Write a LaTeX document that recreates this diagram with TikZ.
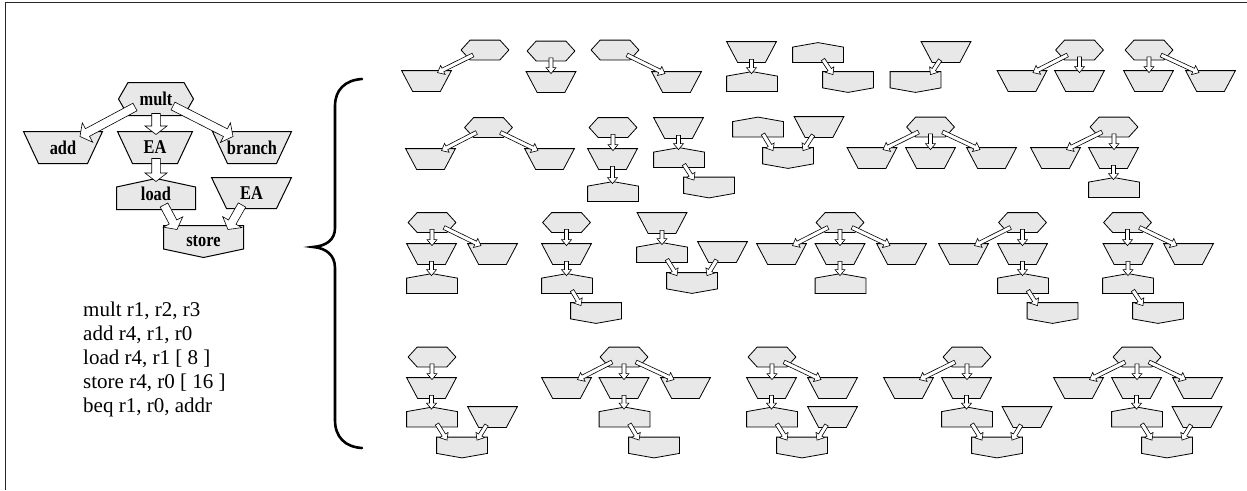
\documentclass[tikz,border=0pt]{standalone}
\usepackage{fontspec}
\setmainfont{Liberation Serif}
\usepackage{graphicx}
\usetikzlibrary{calc}
\definecolor{shfill}{RGB}{232,232,232}
\makeatletter
\newdimen\shxa \newdimen\shya \newdimen\shxb \newdimen\shyb \newdimen\shxm \newdimen\shym
\def\hexinset{9pt}
\def\trapinset{11pt}
\def\pentdrop{4.5pt}
\pgfdeclareshape{hexa}{
  \inheritsavedanchors[from=rectangle]
  \inheritanchorborder[from=rectangle]
  \inheritanchor[from=rectangle]{center}
  \inheritanchor[from=rectangle]{north}
  \inheritanchor[from=rectangle]{south}
  \inheritanchor[from=rectangle]{east}
  \inheritanchor[from=rectangle]{west}
  \inheritanchor[from=rectangle]{north west}
  \inheritanchor[from=rectangle]{north east}
  \inheritanchor[from=rectangle]{south west}
  \inheritanchor[from=rectangle]{south east}
  \backgroundpath{%
    \southwest \shxa=\pgf@x \shya=\pgf@y
    \northeast \shxb=\pgf@x \shyb=\pgf@y
    \shym=.5\shya \advance\shym by .5\shyb
    \pgfpathmoveto{\pgfqpoint{\shxa}{\shym}}%
    \pgfpathlineto{\pgfqpoint{\dimexpr\shxa+\hexinset\relax}{\shyb}}%
    \pgfpathlineto{\pgfqpoint{\dimexpr\shxb-\hexinset\relax}{\shyb}}%
    \pgfpathlineto{\pgfqpoint{\shxb}{\shym}}%
    \pgfpathlineto{\pgfqpoint{\dimexpr\shxb-\hexinset\relax}{\shya}}%
    \pgfpathlineto{\pgfqpoint{\dimexpr\shxa+\hexinset\relax}{\shya}}%
    \pgfpathclose
  }
}
\pgfdeclareshape{trapz}{
  \inheritsavedanchors[from=rectangle]
  \inheritanchorborder[from=rectangle]
  \inheritanchor[from=rectangle]{center}
  \inheritanchor[from=rectangle]{north}
  \inheritanchor[from=rectangle]{south}
  \inheritanchor[from=rectangle]{east}
  \inheritanchor[from=rectangle]{west}
  \inheritanchor[from=rectangle]{north west}
  \inheritanchor[from=rectangle]{north east}
  \inheritanchor[from=rectangle]{south west}
  \inheritanchor[from=rectangle]{south east}
  \backgroundpath{%
    \southwest \shxa=\pgf@x \shya=\pgf@y
    \northeast \shxb=\pgf@x \shyb=\pgf@y
    \pgfpathmoveto{\pgfqpoint{\shxa}{\shyb}}%
    \pgfpathlineto{\pgfqpoint{\shxb}{\shyb}}%
    \pgfpathlineto{\pgfqpoint{\dimexpr\shxb-\trapinset\relax}{\shya}}%
    \pgfpathlineto{\pgfqpoint{\dimexpr\shxa+\trapinset\relax}{\shya}}%
    \pgfpathclose
  }
}
\pgfdeclareshape{penup}{
  \inheritsavedanchors[from=rectangle]
  \inheritanchorborder[from=rectangle]
  \inheritanchor[from=rectangle]{center}
  \inheritanchor[from=rectangle]{north}
  \inheritanchor[from=rectangle]{south}
  \inheritanchor[from=rectangle]{east}
  \inheritanchor[from=rectangle]{west}
  \inheritanchor[from=rectangle]{north west}
  \inheritanchor[from=rectangle]{north east}
  \inheritanchor[from=rectangle]{south west}
  \inheritanchor[from=rectangle]{south east}
  \backgroundpath{%
    \southwest \shxa=\pgf@x \shya=\pgf@y
    \northeast \shxb=\pgf@x \shyb=\pgf@y
    \shxm=.5\shxa \advance\shxm by .5\shxb
    \pgfpathmoveto{\pgfqpoint{\shxa}{\shya}}%
    \pgfpathlineto{\pgfqpoint{\shxa}{\dimexpr\shyb-\pentdrop\relax}}%
    \pgfpathlineto{\pgfqpoint{\shxm}{\shyb}}%
    \pgfpathlineto{\pgfqpoint{\shxb}{\dimexpr\shyb-\pentdrop\relax}}%
    \pgfpathlineto{\pgfqpoint{\shxb}{\shya}}%
    \pgfpathclose
  }
}
\pgfdeclareshape{pendown}{
  \inheritsavedanchors[from=rectangle]
  \inheritanchorborder[from=rectangle]
  \inheritanchor[from=rectangle]{center}
  \inheritanchor[from=rectangle]{north}
  \inheritanchor[from=rectangle]{south}
  \inheritanchor[from=rectangle]{east}
  \inheritanchor[from=rectangle]{west}
  \inheritanchor[from=rectangle]{north west}
  \inheritanchor[from=rectangle]{north east}
  \inheritanchor[from=rectangle]{south west}
  \inheritanchor[from=rectangle]{south east}
  \backgroundpath{%
    \southwest \shxa=\pgf@x \shya=\pgf@y
    \northeast \shxb=\pgf@x \shyb=\pgf@y
    \shxm=.5\shxa \advance\shxm by .5\shxb
    \pgfpathmoveto{\pgfqpoint{\shxa}{\shyb}}%
    \pgfpathlineto{\pgfqpoint{\shxb}{\shyb}}%
    \pgfpathlineto{\pgfqpoint{\shxb}{\dimexpr\shya+\pentdrop\relax}}%
    \pgfpathlineto{\pgfqpoint{\shxm}{\shya}}%
    \pgfpathlineto{\pgfqpoint{\shxa}{\dimexpr\shya+\pentdrop\relax}}%
    \pgfpathclose
  }
}
\makeatother
\def\myaw{2pt}\def\myah{5pt}\def\myal{6pt}
\newcommand\barrow[2]{%
  \coordinate (arS) at #1;
  \coordinate (arE) at #2;
  \coordinate (arC) at ($(arE)!\myal!(arS)$);
  \draw[barrowsty] ($(arS)!\myaw!90:(arE)$) -- ($(arC)!\myaw!90:(arE)$) -- ($(arC)!\myah!90:(arE)$) -- (arE) -- ($(arC)!\myah!-90:(arE)$) -- ($(arC)!\myaw!-90:(arE)$) -- ($(arS)!\myaw!-90:(arE)$) -- cycle;
}
\newcommand\arDown[2]{\barrow{($(#1.south)+(0,-3)$)}{($(#1.south |- #2.north)+(0,2)$)}}
\newcommand\arHL[2]{\barrow{($(#1)+(-12,5)$)}{($(#2.north)+(11,2)$)}}
\newcommand\arHR[2]{\barrow{($(#1)+(12,5)$)}{($(#2.north)+(-11.5,2)$)}}
\newcommand\arPL[2]{\barrow{($(#1)+(5,7)$)}{($(#2.north)+(-15,3)$)}}
\newcommand\arTR[2]{\barrow{($(#1)+(-6,8)$)}{($(#2.north)+(15,3)$)}}
\newcommand\lbl[1]{\scalebox{0.84}[1]{#1}}
\tikzset{
  base/.style={draw=black, fill=shfill, line width=0.8pt, inner sep=0pt},
  hx/.style={base, shape=hexa, minimum width=47pt, minimum height=19pt},
  tz/.style={base, shape=trapz, minimum width=49pt, minimum height=20pt},
  pu/.style={base, shape=penup, minimum width=50pt, minimum height=19pt},
  pd/.style={base, shape=pendown, minimum width=50pt, minimum height=20pt},
  barrowsty/.style={draw=black, fill=white, line width=0.6pt, line join=miter},
  biglbl/.style={font=\fontsize{19.5pt}{19.5pt}\selectfont\bfseries},
}
\begin{document}
\begin{tikzpicture}[x=1pt, y=-1pt]
\useasboundingbox (0,0) rectangle (1247,490);
% frame
\draw[line width=1.4pt, black!85] (5.5,490) -- (5.5,2.7) -- (1247,2.7);

% ---------- big diagram ----------
\begin{scope}
\def\hexinset{9.5pt}\def\trapinset{15pt}\def\pentdrop{8.5pt}
\def\myaw{4.3pt}\def\myah{11pt}\def\myal{8.5pt}
\tikzset{base/.append style={line width=1pt}}
\node[hx, minimum width=74pt, minimum height=32pt, biglbl] (mult) at (156,99) {\lbl{mult}};
\node[tz, minimum width=78pt, minimum height=31pt, biglbl] (add) at (63,147.5) {\lbl{add}};
\node[tz, minimum width=74pt, minimum height=31pt, biglbl] (ea1) at (155,147.5) {\lbl{EA}};
\node[tz, minimum width=78pt, minimum height=31pt, biglbl] (branch) at (252,147.5) {\lbl{branch}};
\node[pu, minimum width=78pt, minimum height=30pt, biglbl] (load) at (156,194) {\raisebox{-3pt}{\lbl{load}}};
\node[tz, minimum width=79pt, minimum height=30pt, biglbl] (ea2) at (251.5,193) {\lbl{EA}};
\node[pd, minimum width=79pt, minimum height=31pt, biglbl] (store) at (203.5,241.5) {\lbl{store}};
\barrow{($(mult)+(-21,8)$)}{($(add.north)+(17,5)$)}
\barrow{($(mult.south)+(0,-2)$)}{($(mult.south |- ea1.north)+(0,3)$)}
\barrow{($(mult)+(17,7)$)}{($(branch.north)+(-19,5)$)}
\barrow{($(load.north |- ea1.south)+(0,-5)$)}{($(load.north)+(0,3)$)}
\barrow{($(load)+(8,11)$)}{($(store.north)+(-26.5,4)$)}
\barrow{($(ea2)+(-9.5,12)$)}{($(store.north)+(24.5,4)$)}
\end{scope}

% program text
\node[anchor=north west, inner sep=0pt, align=left, font=\fontsize{21pt}{24pt}\selectfont] (prog) at (83,301.5)
 {mult r1, r2, r3\\add r4, r1, r0\\load r4, r1 [ 8 ]\\store r4, r0 [ 16 ]\\beq r1, r0, addr};

% brace
\draw[line width=2.6pt, line cap=round] (362,79) .. controls (345,80) and (335,90) .. (335,106) -- (335,228) .. controls (335,240) and (326,246) .. (313,247) .. controls (326,248) and (335,255) .. (335,268) -- (335,420) .. controls (335,437) and (345,447) .. (362,448);

% ---------- row 1 ----------
\node[hx] (a1h) at (485,50) {};
\node[tz] (a1t) at (426.5,81) {};
\arHL{a1h}{a1t}
\node[hx] (a2h) at (551,51) {};
\node[tz] (a2t) at (551,82) {};
\arDown{a2h}{a2t}
\node[hx] (a3h) at (615,50) {};
\node[tz] (a3t) at (676.5,82) {};
\arHR{a3h}{a3t}
\node[tz] (a4t) at (751.5,52) {};
\node[pu] (a4p) at (752,81.5) {};
\arDown{a4t}{a4p}
\node[pu] (a5p) at (818,52.5) {};
\node[pd] (a5s) at (848,82) {};
\arPL{a5p}{a5s}
\node[tz] (a6t) at (946,52) {};
\node[pd] (a6s) at (915.5,82) {};
\arTR{a6t}{a6s}
\node[hx] (a7h) at (1079.5,50) {};
\node[tz] (a7t1) at (1022,81) {};
\node[tz] (a7t2) at (1079.5,81) {};
\arHL{a7h}{a7t1}
\arDown{a7h}{a7t2}
\node[hx] (a8h) at (1149,50) {};
\node[tz] (a8t1) at (1148.5,81) {};
\node[tz] (a8t2) at (1210.5,81) {};
\arDown{a8h}{a8t1}
\arHR{a8h}{a8t2}

% ---------- row 2 ----------
\node[hx] (b1h) at (488.5,127.5) {};
\node[tz] (b1t1) at (430.5,159) {};
\node[tz] (b1t2) at (549.5,159) {};
\arHL{b1h}{b1t1}
\arHR{b1h}{b1t2}
\node[hx] (b2h) at (613,127.5) {};
\node[tz] (b2t) at (612.5,159) {};
\node[pu] (b2p) at (613,191.5) {};
\arDown{b2h}{b2t}
\arDown{b2t}{b2p}
\node[tz] (b3t) at (678.5,128) {};
\node[pu] (b3p) at (679,157.5) {};
\node[pd] (b3s) at (709,187.5) {};
\arDown{b3t}{b3p}
\arPL{b3p}{b3s}
\node[pu] (b4p) at (758,127) {};
\node[tz] (b4t) at (819,127) {};
\node[pd] (b4s) at (788,158) {};
\arPL{b4p}{b4s}
\arTR{b4t}{b4s}
\node[hx] (b5h) at (930.5,127) {};
\node[tz] (b5t1) at (872,158) {};
\node[tz] (b5t2) at (930.5,158) {};
\node[tz] (b5t3) at (991.5,158) {};
\arHL{b5h}{b5t1}
\arDown{b5h}{b5t2}
\arHR{b5h}{b5t3}
\node[hx] (b6h) at (1114,127) {};
\node[tz] (b6t1) at (1055.5,158) {};
\node[tz] (b6t2) at (1113.5,158) {};
\node[pu] (b6p) at (1114,187.5) {};
\arHL{b6h}{b6t1}
\arDown{b6h}{b6t2}
\arDown{b6t2}{b6p}

% ---------- row 3 ----------
\node[hx] (c1h) at (432,222.5) {};
\node[tz] (c1t1) at (431.5,254) {};
\node[tz] (c1t2) at (492.5,254) {};
\node[pu] (c1p) at (432,283.5) {};
\arDown{c1h}{c1t1}
\arHR{c1h}{c1t2}
\arDown{c1t1}{c1p}
\node[hx] (c2h) at (566.5,222.5) {};
\node[tz] (c2t) at (566.5,254) {};
\node[pu] (c2p) at (567,283.5) {};
\node[pd] (c2s) at (596,313) {};
\arDown{c2h}{c2t}
\arDown{c2t}{c2p}
\arPL{c2p}{c2s}
\node[tz] (c3t) at (662,223) {};
\node[pu] (c3p) at (662,252.5) {};
\node[tz] (c3t2) at (722.5,252) {};
\node[pd] (c3s) at (692,283) {};
\arDown{c3t}{c3p}
\arPL{c3p}{c3s}
\arTR{c3t2}{c3s}
\node[hx] (c4h) at (840,222.5) {};
\node[tz] (c4t1) at (781.5,254) {};
\node[tz] (c4t2) at (840,254) {};
\node[tz] (c4t3) at (901.5,254) {};
\node[pu] (c4p) at (840.5,283.5) {};
\arHL{c4h}{c4t1}
\arDown{c4h}{c4t2}
\arHR{c4h}{c4t3}
\arDown{c4t2}{c4p}
\node[hx] (c5h) at (1022.5,222.5) {};
\node[tz] (c5t1) at (963.5,254) {};
\node[tz] (c5t2) at (1022.5,254) {};
\node[pu] (c5p) at (1023,283.5) {};
\node[pd] (c5s) at (1052.5,313) {};
\arHL{c5h}{c5t1}
\arDown{c5h}{c5t2}
\arDown{c5t2}{c5p}
\arPL{c5p}{c5s}
\node[hx] (c6h) at (1127.5,222.5) {};
\node[tz] (c6t1) at (1128,254) {};
\node[tz] (c6t2) at (1188.5,254) {};
\node[pu] (c6p) at (1128,283.5) {};
\node[pd] (c6s) at (1158,313) {};
\arDown{c6h}{c6t1}
\arHR{c6h}{c6t2}
\arDown{c6t1}{c6p}
\arPL{c6p}{c6s}

% ---------- row 4 ----------
\node[hx] (e1h) at (432,357) {};
\node[tz] (e1t) at (431.5,388) {};
\node[pu] (e1p) at (432,417) {};
\node[tz] (e1t2) at (492.5,417) {};
\node[pd] (e1s) at (462,447.5) {};
\arDown{e1h}{e1t}
\arDown{e1t}{e1p}
\arPL{e1p}{e1s}
\arTR{e1t2}{e1s}
\node[hx] (e2h) at (624,357) {};
\node[tz] (e2t1) at (566.5,388) {};
\node[tz] (e2t2) at (624,388) {};
\node[tz] (e2t3) at (685.5,388) {};
\node[pu] (e2p) at (624.5,417) {};
\node[pd] (e2s) at (654,447.5) {};
\arHL{e2h}{e2t1}
\arDown{e2h}{e2t2}
\arHR{e2h}{e2t3}
\arDown{e2t2}{e2p}
\arPL{e2p}{e2s}
\node[hx] (e3h) at (772,357) {};
\node[tz] (e3t1) at (771.5,388) {};
\node[tz] (e3t2) at (832.5,388) {};
\node[pu] (e3p) at (772,417) {};
\node[tz] (e3t3) at (832.5,417) {};
\node[pd] (e3s) at (802,447.5) {};
\arDown{e3h}{e3t1}
\arHR{e3h}{e3t2}
\arDown{e3t1}{e3p}
\arPL{e3p}{e3s}
\arTR{e3t3}{e3s}
\node[hx] (e4h) at (967,357) {};
\node[tz] (e4t1) at (908.5,388) {};
\node[tz] (e4t2) at (966.5,388) {};
\node[pu] (e4p) at (967,417) {};
\node[tz] (e4t3) at (1027,417) {};
\node[pd] (e4s) at (997,447.5) {};
\arHL{e4h}{e4t1}
\arDown{e4h}{e4t2}
\arDown{e4t2}{e4p}
\arPL{e4p}{e4s}
\arTR{e4t3}{e4s}
\node[hx] (e5h) at (1137,357) {};
\node[tz] (e5t1) at (1078.5,388) {};
\node[tz] (e5t2) at (1136.5,388) {};
\node[tz] (e5t3) at (1197.5,388) {};
\node[pu] (e5p) at (1137,417) {};
\node[tz] (e5t4) at (1197,417) {};
\node[pd] (e5s) at (1167,447.5) {};
\arHL{e5h}{e5t1}
\arDown{e5h}{e5t2}
\arHR{e5h}{e5t3}
\arDown{e5t2}{e5p}
\arPL{e5p}{e5s}
\arTR{e5t4}{e5s}
\end{tikzpicture}
\end{document}
